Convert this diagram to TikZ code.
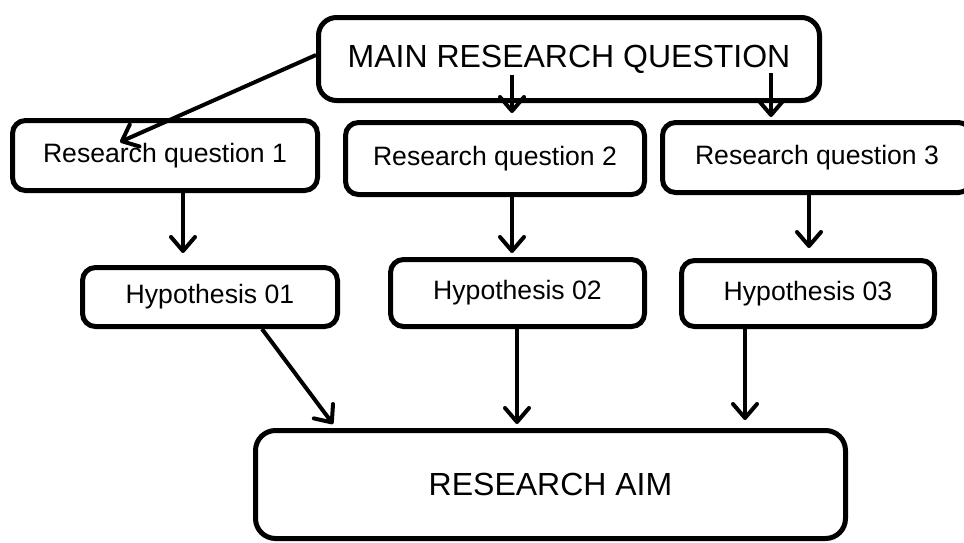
\documentclass[tikz,border=0pt]{standalone}
\usepackage{fontspec}
\setmainfont{Liberation Sans}
\usetikzlibrary{arrows.meta}
\newcommand{\qbox}[5]{
	\node [qnode, minimum width=#3pt, minimum height=#4pt] (#1) at (#2) {#5};}
\tikzset{
	qnode/.style={draw, line width=2.5pt, rounded corners=6.5pt, inner sep=0pt, font=\fontsize{13.3}{15}\selectfont},
	bignode/.style={rounded corners=9pt, font=\fontsize{16}{19}\selectfont},
	qarrow/.style={line width=2pt, -{Straight Barb[length=7pt,width=12pt,round]}}
}

\begin{document}
\begin{tikzpicture}[x=0.5pt,y=-0.5pt]
	\useasboundingbox (0,0) rectangle (964,542);
	\clip (0,0) rectangle (964,542);
	\node [qnode, bignode, minimum width=250.5pt, minimum height=41.5pt] (q0) at (569,59) {MAIN RESEARCH QUESTION};
	\qbox{q1}{165,155.5}{152.5}{35}{Research question 1}
	\qbox{q2}{495,158.5}{149.5}{36}{Research question 2}
	\qbox{q3}{817,157.5}{154.5}{35}{Research question 3}
	\qbox{h1}{210,297}{127.5}{29.5}{Hypothesis 01}
	\qbox{h2}{517.5,293}{127}{33.5}{Hypothesis 02}
	\qbox{h3}{808,293.5}{126.5}{33}{Hypothesis 03}
	\node [qnode, bignode, rounded corners=10pt, minimum width=295pt, minimum height=54pt] (aim) at (550.5,484.5) {RESEARCH AIM};
	\coordinate (e1) at (120,142);
	\coordinate (e2) at (512,113);
	\coordinate (e3) at (771,117);
	\coordinate (e4) at (183,253);
	\coordinate (e5) at (512,253);
	\coordinate (e6) at (809,248);
	\coordinate (e7) at (333,424);
	\coordinate (e8) at (517,424);
	\coordinate (e9) at (745,420);
	\draw [qarrow] ([yshift=2pt]q0.west) -- (e1);
	\draw [qarrow] ([yshift=14pt]q0.south -| e2) -- (e2);
	\draw [qarrow] ([yshift=15pt]q0.south -| e3) -- (e3);
	\draw [qarrow] (q1.south -| e4) -- (e4);
	\draw [qarrow] (q2.south -| e5) -- (e5);
	\draw [qarrow] (q3.south -| e6) -- (e6);
	\draw [qarrow] ([xshift=26pt]h1.south) -- (e7);
	\draw [qarrow] (h2.south -| e8) -- (e8);
	\draw [qarrow] (h3.south -| e9) -- (e9);
\end{tikzpicture}
\end{document}
